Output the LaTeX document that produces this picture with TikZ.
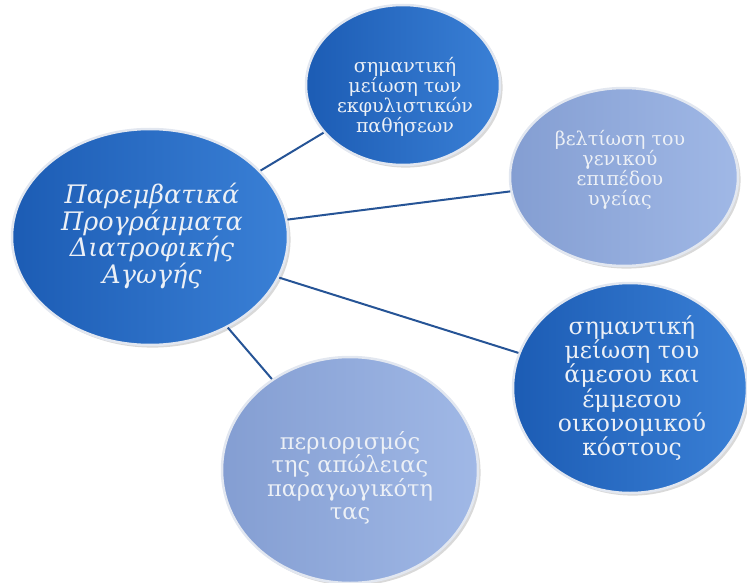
\documentclass[tikz,border=0pt]{standalone}
\usepackage{fontspec}
\setmainfont{DejaVu Serif}
\usetikzlibrary{shapes.geometric}
\usetikzlibrary{shadows}

\definecolor{deepleft}{RGB}{28,92,180}
\definecolor{deepright}{RGB}{58,128,214}
\definecolor{paleleft}{RGB}{132,158,210}
\definecolor{paleright}{RGB}{160,184,230}
\definecolor{rimgrey}{RGB}{226,231,240}
\definecolor{linkblue}{RGB}{38,84,150}
\definecolor{blobtext}{RGB}{236,240,246}

\tikzset{
  blob/.style={ellipse, draw=rimgrey, line width=2.5pt, inner sep=0pt,
    drop shadow={opacity=0.3}},
  deepblob/.style={blob, left color=deepleft, right color=deepright},
  paleblob/.style={blob, left color=paleleft, right color=paleright},
  blobtext/.style={text=blobtext, align=center, inner sep=0pt},
  link/.style={draw=linkblue, line width=2pt}
}

\begin{document}
\begin{tikzpicture}[x=1pt,y=-1pt]
  \useasboundingbox (0,0) rectangle (747,583);
  \node[deepblob, minimum width=276pt, minimum height=216pt] (hub) at (150,237) {};
  \node[deepblob, minimum width=194pt, minimum height=160pt] (lesions) at (403,85) {};
  \node[paleblob, minimum width=228pt, minimum height=178pt] (health) at (624,177) {};
  \node[deepblob, minimum width=234pt, minimum height=210pt] (costs) at (630,388) {};
  \node[paleblob, minimum width=256pt, minimum height=226pt] (output) at (350,470) {};

  \draw[link] (hub) -- (lesions);
  \draw[link] (hub) -- (health);
  \draw[link] (hub) -- (costs);
  \draw[link] (hub) -- (output);

  \node[blobtext, font=\fontsize{25.5}{25}\selectfont\itshape] (hubtext) at (152,236)
    {Παρεμβατικά\\Προγράμματα\\Διατροφικής\\Αγωγής};
  \node[blobtext, font=\fontsize{19}{20}\selectfont] (lesionstext) at (405,97)
    {σημαντική\\μείωση των\\εκφυλιστικών\\παθήσεων};
  \node[blobtext, font=\fontsize{19}{20}\selectfont] (healthtext) at (620,170)
    {βελτίωση του\\γενικού\\επιπέδου\\υγείας};
  \node[blobtext, font=\fontsize{23.5}{24.2}\selectfont] (coststext) at (632,388)
    {σημαντική\\μείωση του\\άμεσου και\\έμμεσου\\οικονομικού\\κόστους};
  \node[blobtext, font=\fontsize{22.5}{23.5}\selectfont] (outputtext) at (350,478)
    {περιορισμός\\της απώλειας\\παραγωγικότη\\τας};
\end{tikzpicture}
\end{document}
